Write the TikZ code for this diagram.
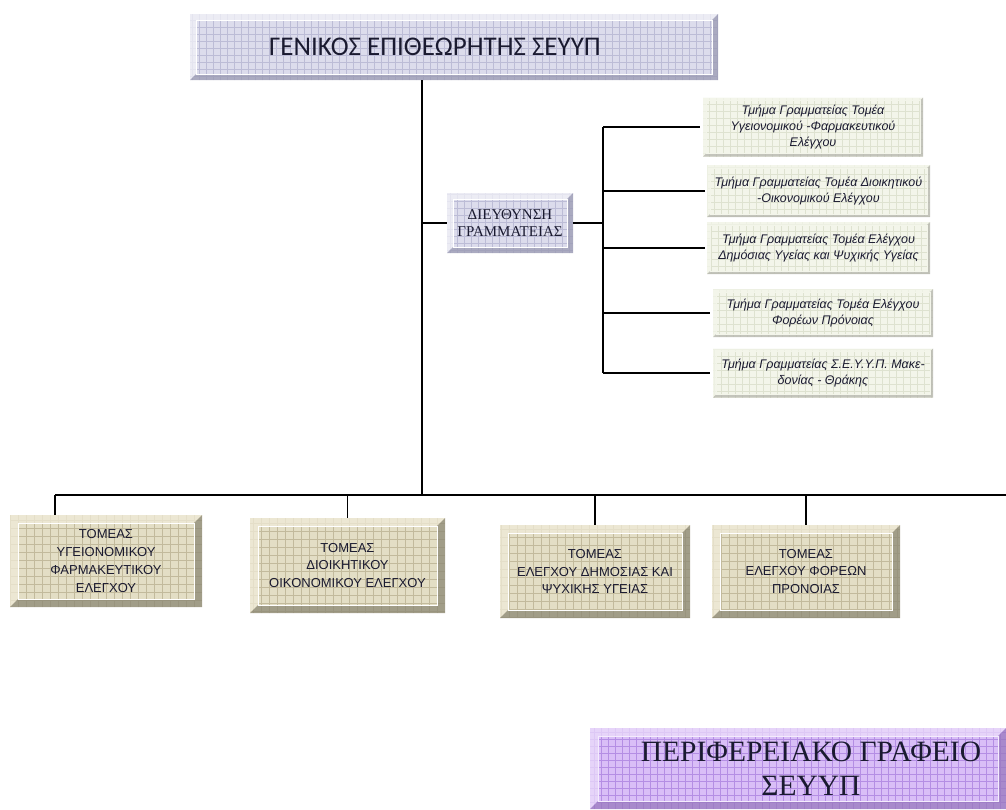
\documentclass[tikz,border=0pt]{standalone}
\usepackage{fontspec}
\setmainfont{Liberation Serif}
\newfontfamily\carl{Carlito}
\newfontfamily\arial{Liberation Sans}
\usetikzlibrary{calc}
\definecolor{lavbase}{HTML}{DCDCEC}
\definecolor{lavgrid}{HTML}{BCBCD6}
\definecolor{lavlight}{HTML}{F2F2F8}
\definecolor{lavdark}{HTML}{9A9AB2}
\definecolor{grnbase}{HTML}{F3F5EA}
\definecolor{grngrid}{HTML}{DEE2D0}
\definecolor{grndark}{HTML}{B4B4AC}
\definecolor{khbase}{HTML}{E3DEC5}
\definecolor{khgrid}{HTML}{C2BA9C}
\definecolor{khlight}{HTML}{F0EBD8}
\definecolor{khdark}{HTML}{8C8874}
\definecolor{pubase}{HTML}{D9BEF7}
\definecolor{pugrid}{HTML}{B48EE4}
\definecolor{pulight}{HTML}{EBDCFB}
\definecolor{pudark}{HTML}{9878BE}
\definecolor{txt}{HTML}{1A1A30}
\newcommand\bvparts[4]{%
 \fill[#1, fill opacity=.75] let \p1=(path picture bounding box.south west), \p2=(path picture bounding box.north east) in
   (\x1,\y2) -- (\x2,\y2) -- (\x2-#3,\y2-#3) -- (\x1+#3,\y2-#3) -- cycle
   (\x1,\y1) -- (\x1,\y2) -- (\x1+#3,\y2-#3) -- (\x1+#3,\y1+#3) -- cycle;
 \fill[#2, fill opacity=.75] let \p1=(path picture bounding box.south west), \p2=(path picture bounding box.north east) in
   (\x2,\y2) -- (\x2,\y1) -- (\x2-#3,\y1+#3) -- (\x2-#3,\y2-#3) -- cycle
   (\x1,\y1) -- (\x2,\y1) -- (\x2-#3,\y1+#3) -- (\x1+#3,\y1+#3) -- cycle;
 \draw[#4, line width=1pt] let \p1=(path picture bounding box.south west), \p2=(path picture bounding box.north east) in
   (\x1+#3,\y1+#3) rectangle (\x2-#3,\y2-#3);
}
\tikzset{
 bevel/.style n args={7}{% base, grid, light, dark, width, step, inner line
   fill=#1, inner sep=0pt, align=center, text=txt,
   path picture={
     \draw[#2, line width=0.6pt, step=#6] (path picture bounding box.south west) grid (path picture bounding box.north east);
     \bvparts{#3}{#4}{#5}{#7}
   }},
 lavbox/.style={bevel={lavbase}{lavgrid}{lavlight}{lavdark}{6pt}{7pt}{white}},
 grnbox/.style={bevel={grnbase}{grngrid}{grnbase}{grndark}{3pt}{7pt}{grnbase},
   font=\arial\itshape\fontsize{12.5}{16}\selectfont},
 khbox/.style={bevel={khbase}{khgrid}{khlight}{khdark}{8pt}{8pt}{white},
   font=\arial\fontsize{13}{17.7}\selectfont},
 pubox/.style={bevel={pubase}{pugrid}{pulight}{pudark}{8pt}{7pt}{white!70!pubase},
   font=\fontsize{29.5}{34}\selectfont},
 conn/.style={line width=1.8pt, black}
}
\begin{document}
\begin{tikzpicture}[x=1pt,y=-1pt]
\useasboundingbox[fill=white] (0,0) rectangle (1006,809);
% top
\node[lavbox, minimum width=528pt, minimum height=66pt, font=\carl\fontsize{27}{30}\selectfont] (top) at (454,47) {ΓΕΝΙΚΟΣ ΕΠΙΘΕΩΡΗΤΗΣ ΣΕΥΥΠ\hspace*{38pt}};
\node[lavbox, minimum width=126pt, minimum height=60pt, font=\fontsize{15}{17}\selectfont] (secr) at (510,223) {ΔΙΕΥΘΥΝΣΗ\\ΓΡΑΜΜΑΤΕΙΑΣ};
% right boxes
\node[grnbox, minimum width=220pt, minimum height=59pt] (r1) at (813,127) {Τμήμα Γραμματείας Τομέα\\Υγειονομικού -Φαρμακευτικού\\Ελέγχου};
\node[grnbox, minimum width=223pt, minimum height=52pt] (r2) at (818.5,191) {Τμήμα Γραμματείας Τομέα Διοικητικού\\-Οικονομικού Ελέγχου};
\node[grnbox, minimum width=223pt, minimum height=52pt] (r3) at (818.5,248) {Τμήμα Γραμματείας Τομέα Ελέγχου\\Δημόσιας Υγείας και Ψυχικής Υγείας};
\node[grnbox, minimum width=220pt, minimum height=48pt] (r4) at (823,313) {Τμήμα Γραμματείας Τομέα Ελέγχου\\Φορέων Πρόνοιας};
\node[grnbox, minimum width=220pt, minimum height=49pt] (r5) at (823,373) {Τμήμα Γραμματείας Σ.Ε.Υ.Υ.Π. Μακε-\\δονίας - Θράκης};
% bottom boxes
\node[khbox, minimum width=192pt, minimum height=92pt] (b1) at (106,561) {ΤΟΜΕΑΣ\\ΥΓΕΙΟΝΟΜΙΚΟΥ\\ΦΑΡΜΑΚΕΥΤΙΚΟΥ\\ΕΛΕΓΧΟΥ};
\node[khbox, minimum width=195pt, minimum height=95pt] (b2) at (347.5,565.5) {ΤΟΜΕΑΣ\\ΔΙΟΙΚΗΤΙΚΟΥ\\ΟΙΚΟΝΟΜΙΚΟΥ ΕΛΕΓΧΟΥ};
\node[khbox, minimum width=190pt, minimum height=93pt] (b3) at (595,571.5) {ΤΟΜΕΑΣ\\ΕΛΕΓΧΟΥ ΔΗΜΟΣΙΑΣ ΚΑΙ\\ΨΥΧΙΚΗΣ ΥΓΕΙΑΣ};
\node[khbox, minimum width=188pt, minimum height=93pt] (b4) at (806,571.5) {ΤΟΜΕΑΣ\\ΕΛΕΓΧΟΥ ΦΟΡΕΩΝ\\ΠΡΟΝΟΙΑΣ};
% regional office
\node[pubox, minimum width=416pt, minimum height=81pt] (reg) at (798,768.5) {\hspace*{26pt}ΠΕΡΙΦΕΡΕΙΑΚΟ ΓΡΑΦΕΙΟ\\\hspace*{26pt}ΣΕΥΥΠ};
% connectors
\coordinate (trunk) at (422,495);
\coordinate (busL) at (55,495);
\coordinate (busR) at (1006,495);
\coordinate (sv) at (603,223);
\draw[conn] (top.south -| trunk) -- (trunk);
\draw[conn] (busL) -- (busR);
\draw[conn] (busL) -- (busL |- b1.north);
\draw[conn] (b2.north |- busL) -- (b2.north);
\draw[conn] (b3.north |- busL) -- (b3.north);
\draw[conn] (b4.north |- busL) -- (b4.north);
\draw[conn] (secr.west -| trunk) -- (secr.west);
\draw[conn] (secr.east) -- (sv);
\draw[conn] (sv |- r1.west) -- (sv |- r5.west);
\draw[conn] (sv |- r1.west) -- ([xshift=-3pt]r1.west);
\draw[conn] (sv |- r2.west) -- ([xshift=-2pt]r2.west);
\draw[conn] (sv |- r3.west) -- ([xshift=-2pt]r3.west);
\draw[conn] (sv |- r4.west) -- ([xshift=-3pt]r4.west);
\draw[conn] (sv |- r5.west) -- ([xshift=-3pt]r5.west);
\end{tikzpicture}
\end{document}
